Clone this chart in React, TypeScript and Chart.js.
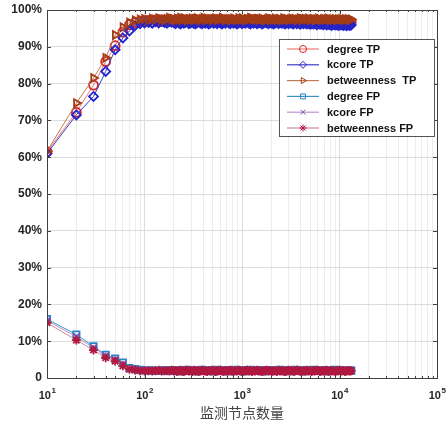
import { useEffect, useRef } from "react";
import { Chart, registerables } from "chart.js";
import { drawPoint } from "chart.js/helpers";
Chart.register(...registerables);

const xNodes = [10, 20, 30, 40, 50, 60, 70, 80, 90, 100, 110, 120, 130, 140, 150, 160, 170, 180, 190,
  200, 208, 216, 225, 234, 243, 253, 263, 274, 285,
  296, 308, 320, 333, 346, 360, 375, 390, 405, 421,
  438, 456, 474, 493, 513, 533, 555, 577, 600, 624,
  649, 675, 702, 730, 759, 790, 821, 854, 888, 924,
  961, 999, 1039, 1081, 1124, 1169, 1216, 1265, 1315, 1368,
  1423, 1480, 1539, 1600, 1664, 1731, 1800, 1872, 1947, 2025,
  2106, 2190, 2278, 2369, 2464, 2562, 2665, 2771, 2882, 2998,
  3117, 3242, 3372, 3507, 3647, 3793, 3944, 4102, 4266, 4437,
  4614, 4799, 4991, 5190, 5398, 5614, 5838, 6072, 6315, 6567,
  6830, 7103, 7387, 7683, 7990, 8310, 8642, 8988, 9347, 9721,
  10110, 10514, 10935, 11372, 11827, 12300, 12792, 13200];

const degreeTP = [61.5, 72.2, 79.6, 86.0, 90.3, 94.0, 96.0, 96.6, 97.0, 97.1, 97.2, 96.8, 97.3, 97.0, 97.4, 96.9, 97.2, 97.5, 97.0,
  97.2, 96.8, 97.3, 97.0, 96.7, 97.2, 97.4, 96.9, 97.1, 97.3,
  96.8, 97.0, 97.5, 96.9, 97.4, 97.1, 96.7, 97.3, 97.0, 97.2,
  96.9, 97.1, 97.4, 96.8, 97.0, 97.3, 97.1, 96.9, 97.5, 97.0,
  97.3, 96.8, 97.1, 97.4, 96.9, 97.2, 97.0, 96.7, 97.3, 97.1,
  96.9, 97.2, 97.0, 97.4, 96.8, 97.1, 97.3, 96.9, 97.0, 97.5,
  97.1, 96.8, 97.3, 97.0, 97.2, 96.9, 97.1, 97.4, 97.0, 96.8,
  97.2, 97.0, 97.3, 96.9, 97.1, 97.4, 96.8, 97.0, 97.2, 97.1,
  96.9, 97.3, 97.0, 97.2, 96.8, 97.1, 97.4, 96.9, 97.0, 97.3,
  97.1, 96.8, 97.2, 97.0, 97.3, 96.9, 97.1, 97.0, 97.2, 96.8,
  97.1, 97.3, 96.9, 97.0, 97.2, 97.1, 96.8, 97.0, 97.2, 96.9,
  97.0, 97.1, 96.9, 97.0, 96.8, 96.9, 97.0, 96.8];
const kcoreTP = [61.0, 71.5, 76.5, 83.3, 89.2, 92.4, 94.3, 95.8, 96.3, 96.5, 96.6, 96.4, 96.8, 96.5, 96.9, 96.6, 96.4, 96.9, 96.7,
  96.6, 96.3, 96.8, 96.5, 96.2, 96.7, 96.4, 96.6, 96.9, 96.3,
  96.5, 96.7, 96.4, 96.2, 96.6, 96.8, 96.5, 96.3, 96.7, 96.4,
  96.6, 96.2, 96.5, 96.8, 96.4, 96.6, 96.3, 96.7, 96.5, 96.2,
  96.6, 96.4, 96.8, 96.5, 96.3, 96.7, 96.4, 96.6, 96.2, 96.5,
  96.7, 96.3, 96.6, 96.4, 96.8, 96.5, 96.2, 96.6, 96.4, 96.7,
  96.3, 96.5, 96.6, 96.2, 96.4, 96.7, 96.5, 96.3, 96.6, 96.4,
  96.2, 96.5, 96.7, 96.3, 96.6, 96.4, 96.5, 96.2, 96.6, 96.3,
  96.5, 96.4, 96.2, 96.6, 96.3, 96.5, 96.1, 96.4, 96.3, 96.5,
  96.2, 96.4, 96.1, 96.3, 96.2, 96.4, 96.0, 96.3, 96.1, 96.2,
  96.0, 96.2, 95.9, 96.1, 96.0, 95.8, 96.1, 95.9, 96.0, 95.8,
  95.9, 96.0, 95.8, 95.9, 95.7, 95.9, 95.8, 95.9];
const betweennessTP = [61.6, 74.7, 81.5, 87.0, 93.2, 95.3, 96.6, 97.2, 97.4, 97.6, 97.3, 97.7, 97.4, 97.8, 97.5, 97.2, 97.6, 97.9, 97.4,
  97.5, 97.2, 97.7, 97.4, 97.9, 97.3, 97.8, 97.5, 97.2, 97.6,
  97.4, 97.7, 97.3, 97.5, 97.8, 97.4, 97.2, 97.6, 97.9, 97.3,
  97.7, 97.4, 97.6, 97.2, 97.5, 97.8, 97.3, 97.6, 97.4, 97.9,
  97.7, 97.3, 97.5, 97.6, 97.2, 97.4, 97.7, 97.5, 97.3, 97.8,
  97.4, 97.8, 97.5, 97.2, 97.6, 97.4, 97.9, 97.7, 97.5, 97.4,
  97.6, 97.3, 97.5, 97.7, 97.4, 97.2, 97.5, 97.8, 97.3, 97.5,
  97.4, 97.7, 97.3, 97.6, 97.5, 97.2, 97.8, 97.4, 97.6, 97.3,
  97.5, 97.7, 97.4, 97.6, 97.2, 97.5, 97.8, 97.3, 97.5, 97.6,
  97.4, 97.7, 97.3, 97.5, 97.6, 97.2, 97.4, 97.7, 97.5, 97.3,
  97.6, 97.4, 97.5, 97.7, 97.3, 97.5, 97.4, 97.6, 97.3, 97.5,
  97.4, 97.6, 97.3, 97.5, 97.4, 97.5, 97.3, 97.4];
const degreeFP = [16.0, 11.8, 8.6, 6.3, 5.3, 4.2, 2.7, 2.4, 2.2, 2.1, 2.0, 2.1, 1.9, 2.0, 2.1, 1.9, 2.0, 2.1, 2.0,
  2.0, 1.9, 2.1, 2.0, 1.8, 2.1, 2.0, 1.9, 2.2, 2.0,
  1.9, 2.1, 2.0, 1.8, 2.1, 1.9, 2.0, 2.2, 1.9, 2.0,
  2.1, 1.9, 2.0, 2.1, 1.8, 2.0, 2.2, 1.9, 2.0, 2.1,
  1.9, 2.0, 2.1, 1.8, 2.0, 2.1, 1.9, 2.2, 2.0, 1.9,
  2.1, 2.0, 1.8, 2.1, 2.0, 1.9, 2.2, 2.0, 1.9, 2.1,
  2.0, 1.9, 2.1, 2.0, 1.8, 2.1, 2.0, 1.9, 2.0, 2.1,
  2.0, 2.1, 1.9, 2.0, 2.2, 1.9, 2.0, 2.1, 1.8, 2.0,
  2.1, 1.9, 2.0, 2.2, 2.0, 1.9, 2.1, 2.0, 1.8, 2.1,
  2.0, 1.9, 2.1, 2.0, 2.2, 1.9, 2.0, 2.1, 1.9, 2.0,
  2.1, 2.0, 1.8, 2.0, 2.1, 1.9, 2.0, 2.2, 2.0, 1.9,
  2.1, 2.0, 1.9, 2.0, 2.1, 1.9, 2.0, 2.0];
const kcoreFP = [15.6, 11.2, 8.2, 6.0, 5.0, 3.8, 2.5, 2.3, 2.1, 2.0, 2.1, 2.0, 2.0, 1.9, 2.1, 2.0, 1.9, 2.1, 2.0,
  2.1, 2.0, 1.9, 2.2, 2.0, 1.9, 2.1, 2.0, 1.8, 2.1,
  2.0, 2.2, 1.9, 2.0, 2.1, 1.9, 2.2, 2.0, 1.8, 2.1,
  2.0, 1.9, 2.2, 2.0, 2.1, 1.8, 2.0, 2.1, 1.9, 2.2,
  2.0, 2.1, 1.9, 2.0, 2.2, 1.8, 2.1, 2.0, 1.9, 2.1,
  2.0, 2.2, 1.9, 2.0, 2.1, 1.9, 2.0, 2.2, 1.8, 2.0,
  2.1, 2.0, 1.9, 2.2, 2.0, 2.1, 1.9, 2.0, 2.1, 1.9,
  2.0, 1.9, 2.1, 2.0, 1.8, 2.1, 2.2, 2.0, 1.9, 2.1,
  2.0, 2.1, 1.9, 2.0, 2.2, 1.9, 2.0, 2.1, 2.0, 1.8,
  2.1, 2.0, 1.9, 2.1, 2.0, 2.2, 1.9, 2.0, 2.1, 2.0,
  1.9, 2.1, 2.0, 2.2, 1.9, 2.0, 2.1, 1.9, 2.0, 2.1,
  2.0, 1.9, 2.1, 2.0, 1.9, 2.1, 2.0, 2.0];
const betweennessFP = [15.0, 10.3, 7.6, 5.5, 4.6, 3.3, 2.4, 2.2, 2.0, 1.9, 2.0, 1.9, 2.0, 2.1, 1.9, 2.0, 2.0, 1.9, 2.1,
  1.9, 2.0, 1.8, 2.0, 2.1, 1.9, 1.8, 2.0, 2.1, 1.9,
  2.0, 1.8, 2.1, 1.9, 2.0, 1.8, 1.9, 2.1, 2.0, 1.9,
  1.8, 2.0, 1.9, 2.1, 2.0, 1.8, 1.9, 2.0, 2.1, 1.9,
  1.8, 2.0, 1.9, 2.0, 2.1, 1.9, 1.8, 2.0, 1.9, 2.1,
  2.0, 1.8, 1.9, 2.0, 2.1, 1.9, 2.0, 1.8, 2.0, 1.9,
  2.1, 1.9, 2.0, 1.8, 1.9, 2.0, 2.1, 1.9, 2.0, 1.8,
  1.9, 2.0, 1.8, 2.1, 1.9, 2.0, 1.9, 1.8, 2.0, 2.1,
  1.9, 2.0, 1.8, 1.9, 2.1, 2.0, 1.9, 1.8, 2.0, 1.9,
  2.1, 1.9, 2.0, 1.8, 2.0, 1.9, 2.1, 2.0, 1.8, 1.9,
  2.0, 1.9, 2.1, 1.8, 2.0, 1.9, 2.0, 1.8, 1.9, 2.0,
  2.1, 1.9, 2.0, 1.8, 1.9, 2.0, 1.9, 2.0];

const seriesLabels = ["degree TP", "kcore TP", "betweenness  TP", "degree FP", "kcore FP", "betweenness FP"];
const seriesValues = [degreeTP, kcoreTP, betweennessTP, degreeFP, kcoreFP, betweennessFP];
const lineColors = ["#f07a74", "#3c3cc8", "#c27c55", "#3a92c4", "#b896cc", "#c88a9a"];
const markerColors = ["#d82424", "#2424c8", "#a23c16", "#2a84c8", "#8a4cb4", "#b01840"];
const markerStyles = ["circle", "rectRot", "triangle", "rect", "crossRot", "star"];
const markerRotations = [0, 0, 90, 0, 0, 0];

const yTickValues = [0, 10, 20, 30, 40, 50, 60, 70, 80, 90, 100];
const yTickLabels = ["0", "10%", "20%", "30%", "40%", "50%", "60%", "70%", "80%", "90%", "100%"];
const xTickValues = [10, 100, 1000, 10000, 100000];
const xTickBase = "10";
const xTickExponents = ["1", "2", "3", "4", "5"];
const xTitle = "监测节点数量";

const isPow10 = (v: number) => Math.abs(Math.log10(v) - Math.round(Math.log10(v))) < 1e-6;
const LABEL_FONT = "'Liberation Sans', Arial, sans-serif";

const frameLegendPlugin = {
  id: "frameLegend",
  afterDraw(chart: any) {
    const { ctx, chartArea } = chart;
    const { left, right, top, bottom } = chartArea;
    ctx.save();
    ctx.strokeStyle = "#404040";
    ctx.lineWidth = 1;
    ctx.strokeRect(Math.round(left) + 0.5, Math.round(top) + 0.5, Math.round(right - left), Math.round(bottom - top));
    const xs = chart.scales.x;
    const ys = chart.scales.y;
    ctx.beginPath();
    xs.ticks.forEach((t: any) => {
      const px = Math.round(xs.getPixelForValue(t.value)) + 0.5;
      const len = isPow10(t.value) ? 4 : 2;
      ctx.moveTo(px, bottom); ctx.lineTo(px, bottom - len);
      ctx.moveTo(px, top); ctx.lineTo(px, top + len);
    });
    yTickValues.forEach((v) => {
      const py = Math.round(ys.getPixelForValue(v)) + 0.5;
      ctx.moveTo(left, py); ctx.lineTo(left + 4, py);
      ctx.moveTo(right, py); ctx.lineTo(right - 4, py);
    });
    ctx.stroke();

    // x tick labels: 10 with superscript exponent
    ctx.fillStyle = "#262626";
    ctx.textBaseline = "alphabetic";
    ctx.textAlign = "left";
    xTickValues.forEach((v, i) => {
      const px = xs.getPixelForValue(v);
      ctx.font = `bold 11px ${LABEL_FONT}`;
      const bw = ctx.measureText(xTickBase).width;
      ctx.font = `bold 8px ${LABEL_FONT}`;
      const ew = ctx.measureText(xTickExponents[i]).width;
      const x0 = px - (bw + ew) / 2;
      ctx.font = `bold 11px ${LABEL_FONT}`;
      ctx.fillText(xTickBase, x0, 399);
      ctx.font = `bold 8px ${LABEL_FONT}`;
      ctx.fillText(xTickExponents[i], x0 + bw + 0.5, 393);
    });

    // legend box
    const bx = 279.5, by = 39.5, bw = 155, bh = 97;
    ctx.fillStyle = "#ffffff";
    ctx.fillRect(bx, by, bw, bh);
    ctx.strokeStyle = "#555555";
    ctx.lineWidth = 1;
    ctx.strokeRect(bx, by, bw, bh);
    ctx.font = `bold 11px ${LABEL_FONT}`;
    ctx.textBaseline = "middle";
    chart.data.datasets.forEach((ds: any, i: number) => {
      const yy = 49 + i * 15.8;
      ctx.strokeStyle = lineColors[i];
      ctx.lineWidth = 1.2;
      ctx.beginPath();
      ctx.moveTo(287, yy); ctx.lineTo(319, yy);
      ctx.stroke();
      ctx.strokeStyle = markerColors[i];
      ctx.fillStyle = "rgba(0,0,0,0)";
      ctx.lineWidth = 1;
      drawPoint(ctx, { pointStyle: markerStyles[i], rotation: markerRotations[i], radius: 3.5, borderWidth: 1 } as any, 303, yy);
      ctx.fillStyle = "#111111";
      ctx.fillText(ds.label, 327, yy + 0.5);
    });
    ctx.restore();
  },
};

export default function App() {
  const ref = useRef<HTMLCanvasElement>(null);
  useEffect(() => {
    document.body.style.margin = "0";
    const datasets = seriesValues.map((vals, i) => ({
      label: seriesLabels[i],
      data: xNodes.map((x, j) => ({ x, y: vals[j] })),
      borderColor: lineColors[i],
      borderWidth: 1,
      pointBorderColor: markerColors[i],
      pointBackgroundColor: "rgba(0,0,0,0)",
      pointStyle: markerStyles[i] as any,
      rotation: markerRotations[i],
      pointRadius: 4.5,
      pointBorderWidth: 1.8,
      order: 5 - i,
      tension: 0,
    }));
    const chart = new Chart(ref.current!, {
      type: "line",
      data: { datasets },
      plugins: [frameLegendPlugin],
      options: {
        animation: false,
        responsive: false,
        layout: { padding: { left: 0, top: 10, right: 9, bottom: 0 } },
        plugins: { legend: { display: false }, tooltip: { enabled: false } },
        scales: {
          x: {
            type: "logarithmic",
            min: 10,
            max: 100000,
            afterFit: (s: any) => { s.height = 43; s.paddingLeft = 0; s.paddingRight = 0; },
            afterBuildTicks: (s: any) => {
              const tk: any[] = [];
              for (let d = 0; d < xTickValues.length - 1; d++) {
                for (let m = 1; m < 10; m++) tk.push({ value: xTickValues[d] * m });
              }
              tk.push({ value: xTickValues[xTickValues.length - 1] });
              s.ticks = tk;
            },
            grid: {
              drawTicks: false,
              color: (c: any) => (c.tick && isPow10(c.tick.value) ? "#dcdcdc" : "#ededed"),
            },
            border: { display: false },
            ticks: {
              autoSkip: false,
              maxRotation: 0,
              padding: 6,
              callback: () => "",
            },
            title: {
              display: true,
              text: xTitle,
              color: "#444",
              padding: { top: 0, bottom: 0 },
              font: { family: "'Noto Sans CJK SC', sans-serif", size: 14 },
            },
          },
          y: {
            min: 0,
            max: 100,
            afterFit: (s: any) => { s.width = 47; s.paddingTop = 0; s.paddingBottom = 0; },
            afterBuildTicks: (s: any) => { s.ticks = yTickValues.map((v) => ({ value: v })); },
            grid: { drawTicks: false, color: "#dcdcdc" },
            border: { display: false },
            ticks: {
              padding: 5,
              color: "#262626",
              font: { family: LABEL_FONT, size: 12, weight: "bold" },
              callback: (v: any) => {
                const idx = yTickValues.indexOf(Number(v));
                return idx >= 0 ? yTickLabels[idx] : "";
              },
            },
          },
        },
      },
    });
    return () => chart.destroy();
  }, []);
  return <canvas ref={ref} width={446} height={421} style={{ display: "block" }} />;
}
